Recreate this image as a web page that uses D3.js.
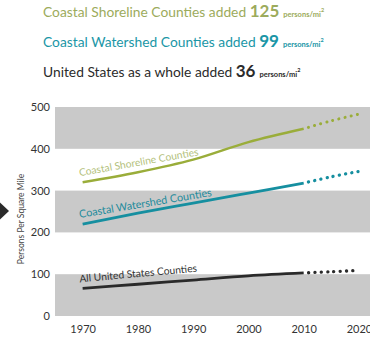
<!DOCTYPE html>
<html>
<head>
<meta charset="utf-8">
<script src="https://cdn.jsdelivr.net/npm/d3@7"></script>
<style>
  body { margin: 0; background: #fff; }
  svg { display: block; font-family: Lato, "Open Sans", sans-serif; }
</style>
</head>
<body>
<div id="chart"></div>
<script>
// Data ________________________________________________
const years = [1970, 1980, 1990, 2000, 2010];
const projYears = [2010, 2015, 2020];
const shoreline = [320, 344, 374, 416, 448];
const shorelineProj = [448, 467, 483];
const watershed = [220, 246, 270, 294, 318];
const watershedProj = [318, 333, 346];
const usAll = [66, 76, 86, 96, 103];
const usAllProj = [103, 106, 109];
const xTicks = [1970, 1980, 1990, 2000, 2010, 2020];
const yTicks = [0, 100, 200, 300, 400, 500];
const bands = [[0, 100], [200, 300], [400, 500]];
const headlines = [
  ["Coastal Shoreline Counties added ", "125", "#9cab5c"],
  ["Coastal Watershed Counties added ", "99", "#1a96a6"],
  ["United States as a whole added ", "36", "#2b2b2b"]
];

const width = 370, height = 337;

const svg = d3.select('#chart')
  .append('svg')
  .attr('width', width)
  .attr('height', height);

const x = d3.scaleLinear().domain([1965, 2022]).range([55, 370]);
const y = d3.scaleLinear().domain([0, 500]).range([316, 107]);

// Headlines ___________________________________________
headlines.forEach((h, i) => {
  const t = svg.append('text')
    .attr('x', 43)
    .attr('y', 17 + i * 30)
    .attr('fill', h[2]);
  t.append('tspan').attr('font-size', 13.8).text(h[0]);
  t.append('tspan').attr('font-size', 17).attr('font-weight', 'bold').text(h[1]);
  t.append('tspan').attr('font-size', 7.5).attr('font-weight', 'bold').attr('dx', 4).text('persons/mi');
  t.append('tspan').attr('font-size', 5.5).attr('font-weight', 'bold').attr('dy', -5).text('2');
});

// Bands _______________________________________________
svg.append('g')
  .selectAll('rect')
  .data(bands)
  .enter()
  .append('rect')
  .attr('x', x(1965))
  .attr('width', x(2022) - x(1965))
  .attr('y', d => y(d[1]))
  .attr('height', d => y(d[0]) - y(d[1]))
  .attr('fill', '#c9c9c9');

// Axes ________________________________________________
const yAxis = d3.axisLeft(y).tickValues(yTicks).tickSize(0).tickPadding(4);
svg.append('g')
  .attr('transform', `translate(${x(1965) - 1}, 0)`)
  .call(yAxis)
  .call(g => g.select('.domain').remove())
  .call(g => g.selectAll('text').attr('font-size', 11).attr('fill', '#333')
    .attr('font-family', 'Lato, "Open Sans", sans-serif'));

const xAxis = d3.axisBottom(x).tickValues(xTicks).tickFormat(d3.format('d')).tickSize(0).tickPadding(9);
svg.append('g')
  .attr('transform', `translate(0, ${y(0)})`)
  .call(xAxis)
  .call(g => g.select('.domain').remove())
  .call(g => g.selectAll('text').attr('font-size', 11).attr('fill', '#333')
    .attr('font-family', 'Lato, "Open Sans", sans-serif'));

svg.append('text')
  .attr('transform', `translate(24, 219) rotate(-90)`)
  .attr('text-anchor', 'middle')
  .attr('font-size', 8.5)
  .attr('fill', '#444')
  .text('Persons Per Square Mile');

// Left arrow
svg.append('path')
  .attr('d', 'M-6,197 L9,211 L-6,225 Z')
  .attr('fill', '#2a2a2a');

// Lines _______________________________________________
const line = d3.line()
  .x(d => x(d[0]))
  .y(d => y(d[1]))
  .curve(d3.curveCatmullRom);

const series = [
  { vals: shoreline, proj: shorelineProj, color: '#9aad3a', w: 2.5 },
  { vals: watershed, proj: watershedProj, color: '#168fa0', w: 2.8 },
  { vals: usAll, proj: usAllProj, color: '#2a2a2a', w: 2.8 }
];

series.forEach(s => {
  svg.append('path')
    .attr('d', line(years.map((yr, i) => [yr, s.vals[i]])))
    .attr('fill', 'none')
    .attr('stroke', s.color)
    .attr('stroke-width', s.w);
  svg.append('path')
    .attr('d', line(projYears.map((yr, i) => [yr, s.proj[i]])))
    .attr('fill', 'none')
    .attr('stroke', s.color)
    .attr('stroke-width', s.w + 0.5)
    .attr('stroke-linecap', 'round')
    .attr('stroke-dasharray', '0.1 6.2')
    .attr('stroke-dashoffset', -5);
});

// Line labels _________________________________________
const labels = [
  ["Coastal Shoreline Counties", 1970.0, shoreline[0], -10, '#b3bf7c', 10.3],
  ["Coastal Watershed Counties", 1970.0, watershed[0], -9.5, '#238b9c', 10.8],
  ["All United States Counties", 1970.0, usAll[0], -5.2, '#333', 10.3]
];
labels.forEach(l => {
  svg.append('text')
    .attr('transform', `translate(${x(l[1]) - 3}, ${y(l[2]) - 6}) rotate(${l[3]})`)
    .attr('font-size', l[5])
    .attr('fill', l[4])
    .text(l[0]);
});
</script>
</body>
</html>
